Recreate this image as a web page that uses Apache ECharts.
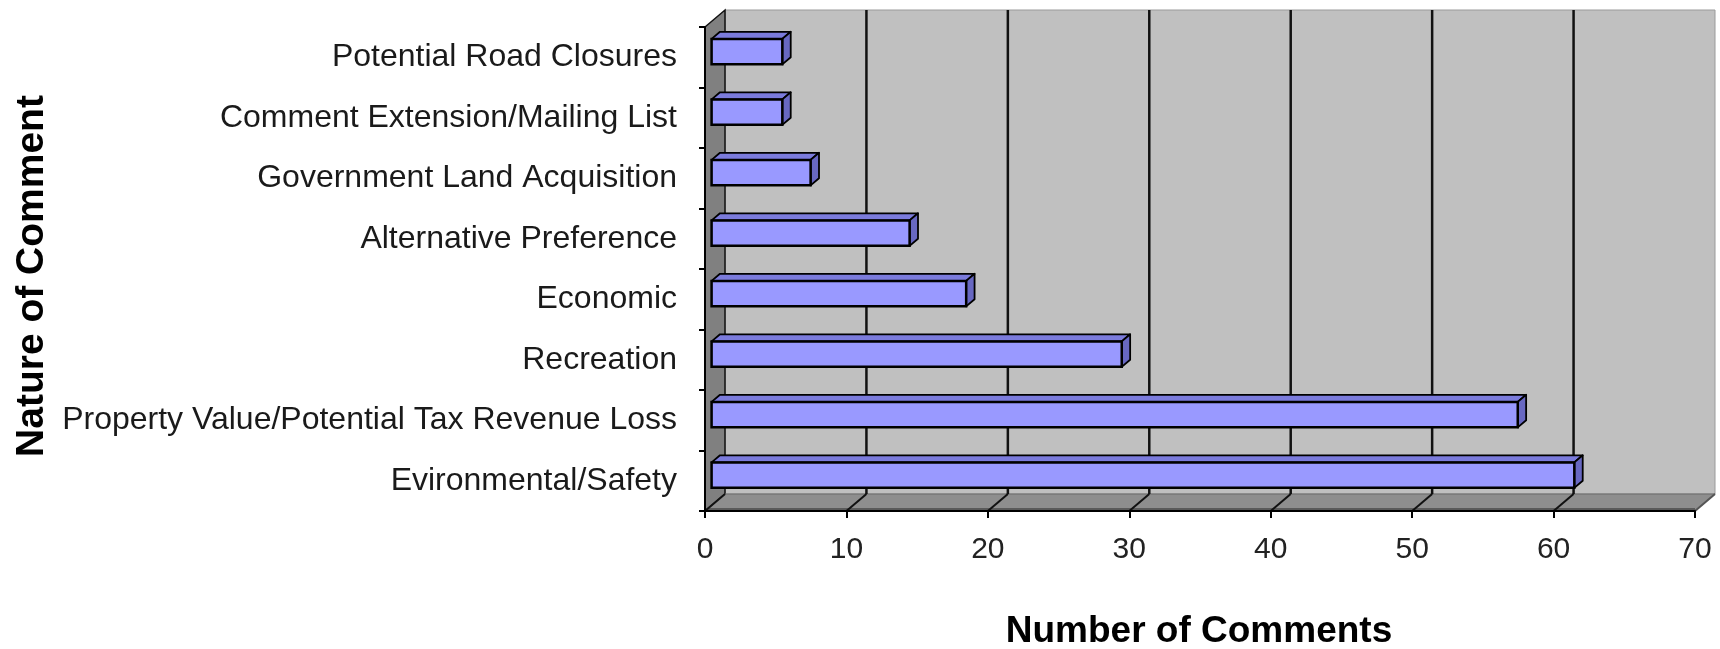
<!DOCTYPE html>
<html>
<head>
<meta charset="utf-8">
<script src="https://cdn.jsdelivr.net/npm/echarts@6/dist/echarts.min.js"></script>
<style>
html,body{margin:0;padding:0;background:#fff;}
#chart{width:1720px;height:649px;}
</style>
</head>
<body>
<div id="chart"></div>
<script>
// ---- data (top to bottom as shown) ----
const categories = [
  'Potential Road Closures',
  'Comment Extension/Mailing List',
  'Government Land Acquisition',
  'Alternative Preference',
  'Economic',
  'Recreation',
  'Property Value/Potential Tax Revenue Loss',
  'Evironmental/Safety'
];
const commentCounts = [5, 5, 7, 14, 18, 29, 57, 61];
const xTicks = [0, 10, 20, 30, 40, 50, 60, 70];
const xTitle = 'Number of Comments';
const yTitle = 'Nature of Comment';

// ---- 3D look parameters ----
const DEPTH_X = 20, DEPTH_Y = -17;       // wall depth offset
const BAR_FRONT = 0.33, BAR_BACK = 0.75; // bar depth within the box
const BAR_RATIO = 0.42;
const FONT = "'Liberation Sans', Arial, sans-serif";

const chart = echarts.init(document.getElementById('chart'), null, {renderer: 'canvas'});

function wallsRender(params, api) {
  const cs = params.coordSys;
  const x0 = cs.x, y0 = cs.y, x1 = cs.x + cs.width, y1 = cs.y + cs.height;
  const children = [];
  // back wall
  children.push({type: 'rect', shape: {x: x0 + DEPTH_X, y: y0 + DEPTH_Y, width: cs.width, height: cs.height},
    style: {fill: '#c0c0c0', stroke: '#9a9a9a', lineWidth: 1}});
  // left wall
  children.push({type: 'polygon', shape: {points: [[x0, y0], [x0 + DEPTH_X, y0 + DEPTH_Y], [x0 + DEPTH_X, y1 + DEPTH_Y], [x0, y1]]},
    style: {fill: '#808080', stroke: '#111', lineWidth: 1.5}});
  // floor
  children.push({type: 'polygon', shape: {points: [[x0, y1], [x0 + DEPTH_X, y1 + DEPTH_Y], [x1 + DEPTH_X, y1 + DEPTH_Y], [x1, y1]]},
    style: {fill: '#8e8e8e', stroke: '#6a6a6a', lineWidth: 1}});
  // darker strip along the floor front
  children.push({type: 'line', shape: {x1: x0, y1: y1 - 2, x2: x1, y2: y1 - 2},
    style: {stroke: '#5a5a5a', lineWidth: 2}});
  // gridlines on back wall and floor
  xTicks.forEach(function (v) {
    const xf = api.coord([v, 0])[0];
    if (v !== xTicks[0] && v !== xTicks[xTicks.length - 1]) {
      children.push({type: 'line', shape: {x1: xf + DEPTH_X, y1: y0 + DEPTH_Y, x2: xf + DEPTH_X, y2: y1 + DEPTH_Y},
        style: {stroke: '#111', lineWidth: 2.5}});
    }
    children.push({type: 'line', shape: {x1: xf, y1: y1, x2: xf + DEPTH_X, y2: y1 + DEPTH_Y},
      style: {stroke: v === xTicks[xTicks.length - 1] ? '#555' : '#111', lineWidth: 2}});
  });
  return {type: 'group', children: children};
}

function barRender(params, api) {
  const cat = api.value(1);
  const start = api.coord([0, cat]);
  const end = api.coord([api.value(0), cat]);
  const band = api.size([0, 1])[1];
  const h = band * BAR_RATIO;
  const fx = DEPTH_X * BAR_FRONT, fy = DEPTH_Y * BAR_FRONT;
  const ddx = DEPTH_X * (BAR_BACK - BAR_FRONT), ddy = DEPTH_Y * (BAR_BACK - BAR_FRONT);
  const xa = start[0] + fx, xb = end[0] + fx;
  const yt = start[1] + fy - h / 2, yb = start[1] + fy + h / 2;
  return {type: 'group', children: [
    {type: 'polygon', shape: {points: [[xa, yt], [xa + ddx, yt + ddy], [xb + ddx, yt + ddy], [xb, yt]]},
      style: {fill: '#7b7bdc', stroke: '#000', lineWidth: 1.8, lineJoin: 'round'}},
    {type: 'polygon', shape: {points: [[xb, yt], [xb + ddx, yt + ddy], [xb + ddx, yb + ddy], [xb, yb]]},
      style: {fill: '#6868c2', stroke: '#000', lineWidth: 1.8, lineJoin: 'round'}},
    {type: 'rect', shape: {x: xa, y: yt, width: xb - xa, height: h},
      style: {fill: '#9999ff', stroke: '#000', lineWidth: 2.5}}
  ]};
}

const option = {
  backgroundColor: '#ffffff',
  animation: false,
  grid: {left: 705, right: 25, top: 27, bottom: 138, containLabel: false},
  xAxis: {
    type: 'value', min: xTicks[0], max: xTicks[xTicks.length - 1], interval: xTicks[1] - xTicks[0],
    z: 10,
    axisLine: {show: true, lineStyle: {color: '#000', width: 2}},
    axisTick: {show: true, length: 7, lineStyle: {color: '#000', width: 2}},
    axisLabel: {margin: 24, fontFamily: FONT, fontSize: 30, color: '#222'},
    splitLine: {show: false}
  },
  yAxis: {
    type: 'category', data: categories, inverse: true,
    z: 10,
    axisLine: {show: true, lineStyle: {color: '#000', width: 2}},
    axisTick: {show: true, length: 6, lineStyle: {color: '#000', width: 2}},
    axisLabel: {margin: 28, fontFamily: FONT, fontSize: 32, color: '#1a1a1a'},
    splitLine: {show: false}
  },
  graphic: [
    {type: 'text', x: 32, y: 276, rotation: Math.PI / 2,
      style: {text: yTitle, font: 'bold 39px ' + FONT, fill: '#000', align: 'center', verticalAlign: 'middle'}},
    {type: 'text', x: 1199, y: 632,
      style: {text: xTitle, font: 'bold 37px ' + FONT, fill: '#000', align: 'center', verticalAlign: 'middle'}}
  ],
  series: [
    {type: 'custom', name: 'walls', coordinateSystem: 'cartesian2d', z: 1, silent: true,
      renderItem: wallsRender, data: [[0, 0]]},
    {type: 'custom', name: 'Comments', coordinateSystem: 'cartesian2d', z: 3,
      renderItem: barRender, encode: {x: 0, y: 1},
      data: commentCounts.map(function (v, i) { return [v, i]; })}
  ]
};
chart.setOption(option);
</script>
</body>
</html>
